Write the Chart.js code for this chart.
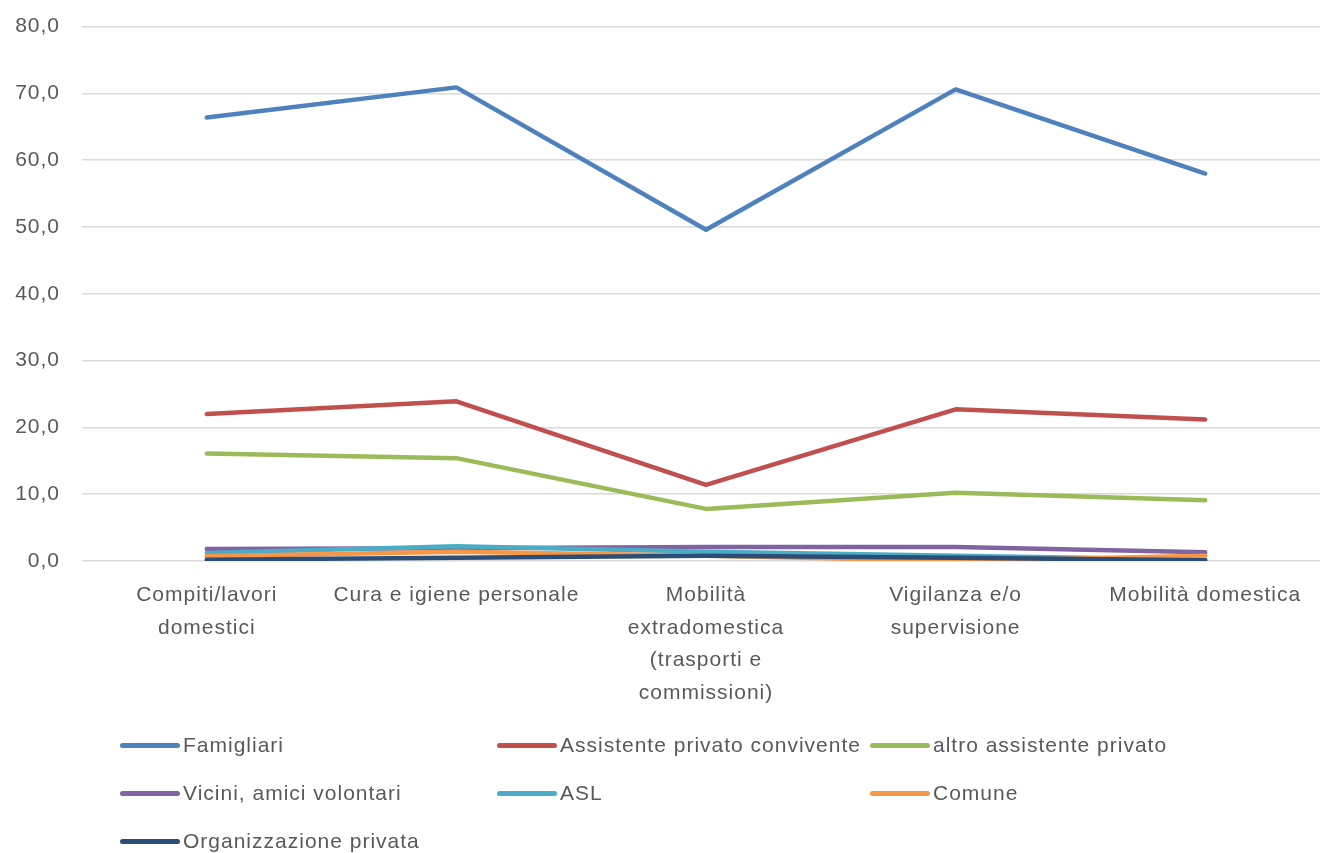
<!DOCTYPE html>
<html><head><meta charset="utf-8">
<script src="https://cdn.jsdelivr.net/npm/chart.js@4.4.1/dist/chart.umd.min.js"></script>
<style>
html,body{margin:0;padding:0;background:#fff;overflow:hidden;width:1320px;height:853px;}
#wrap{position:absolute;left:0;top:-8px;width:1330px;height:730px;}
#legend{position:absolute;left:0;top:0;width:1320px;height:853px;pointer-events:none;font-family:"Liberation Sans",Arial,sans-serif;font-size:21px;letter-spacing:1px;color:#595959;}
.li{position:absolute;display:flex;align-items:center;white-space:nowrap;}
.sw{width:60px;height:5px;border-radius:3px;margin-right:3px;}
</style></head>
<body>
<div id="wrap"><canvas id="c"></canvas></div>
<div id="legend"></div>
<script>
const categories = [["Compiti/lavori","domestici"],"Cura e igiene personale",["Mobilità","extradomestica","(trasporti e","commissioni)"],["Vigilanza e/o","supervisione"],"Mobilità domestica"];
const seriesNames = ["Famigliari","Assistente privato convivente","altro assistente privato","Vicini, amici volontari","ASL","Comune","Organizzazione privata"];
const famigliari = [66.4, 70.9, 49.6, 70.6, 58.0];
const assistenteConvivente = [22.0, 23.9, 11.4, 22.7, 21.2];
const altroAssistente = [16.1, 15.4, 7.8, 10.2, 9.1];
const vicini = [1.8, 1.9, 2.1, 2.1, 1.3];
const asl = [1.2, 2.2, 1.4, 0.8, 0.2];
const comune = [0.7, 1.4, 0.8, 0.0, 0.8];
const organizzazione = [0.2, 0.5, 0.8, 0.5, 0.1];
const yTicks = [0,10,20,30,40,50,60,70,80];
const colors = ["#4F81BD","#C0504D","#9BBB59","#8064A2","#4BACC6","#F79646","#2C4D75"];
const values = [famigliari, assistenteConvivente, altroAssistente, vicini, asl, comune, organizzazione];

const FONT = "'Liberation Sans', Arial, sans-serif";
const datasets = values.map((v,i)=>({
  label: seriesNames[i], data: v, borderColor: colors[i], backgroundColor: colors[i],
  borderWidth: 4.5, pointRadius: 0, tension: 0, fill:false, order: 10 - i,
  borderCapStyle:'round', borderJoinStyle:'round'
}));

const spacing = {
  id:'spacing',
  beforeUpdate(c){ c.ctx.letterSpacing='1px'; },
  beforeLayout(c){ c.ctx.letterSpacing='1px'; },
  beforeDraw(c){ c.ctx.letterSpacing='1px'; },
  resize(c){ c.ctx.letterSpacing='1px'; }
};

new Chart(document.getElementById('c'), {
  type:'line',
  data:{labels:categories, datasets},
  plugins:[spacing],
  options:{
    responsive:true, maintainAspectRatio:false, animation:false,
    layout:{padding:{top:9,right:0,left:0,bottom:11}},
    plugins:{legend:{display:false},tooltip:{enabled:false}},
    scales:{
      x:{
        offset:true,
        grid:{display:false, drawTicks:false},
        border:{display:false},
        ticks:{color:'#595959',font:{family:FONT,size:21,lineHeight:1.55},padding:18,maxRotation:0,autoSkip:false},
        afterFit:(s)=>{s.height=150;}
      },
      y:{
        min:0,max:80,
        afterBuildTicks:(s)=>{s.ticks = yTicks.map(v=>({value:v}));},
        grid:{color:'#d9d9d9',lineWidth:1.5,drawTicks:false},
        border:{display:false},
        ticks:{color:'#595959',font:{family:FONT,size:21},padding:22,
          callback:(v)=>v.toFixed(1).replace('.',',')},
        afterFit:(s)=>{s.width=82;}
      }
    }
  }
});

// legend
const pos = [[120,745],[497,745],[870,745],[120,793],[497,793],[870,793],[120,841]];
const lg = document.getElementById('legend');
seriesNames.forEach((n,i)=>{
  const d=document.createElement('div'); d.className='li';
  d.style.left=pos[i][0]+'px'; d.style.top=(pos[i][1]-12)+'px'; d.style.height='24px';
  const sw=document.createElement('div'); sw.className='sw'; sw.style.background=colors[i];
  const t=document.createElement('span'); t.textContent=n;
  d.appendChild(sw); d.appendChild(t); lg.appendChild(d);
});
</script>
</body></html>
